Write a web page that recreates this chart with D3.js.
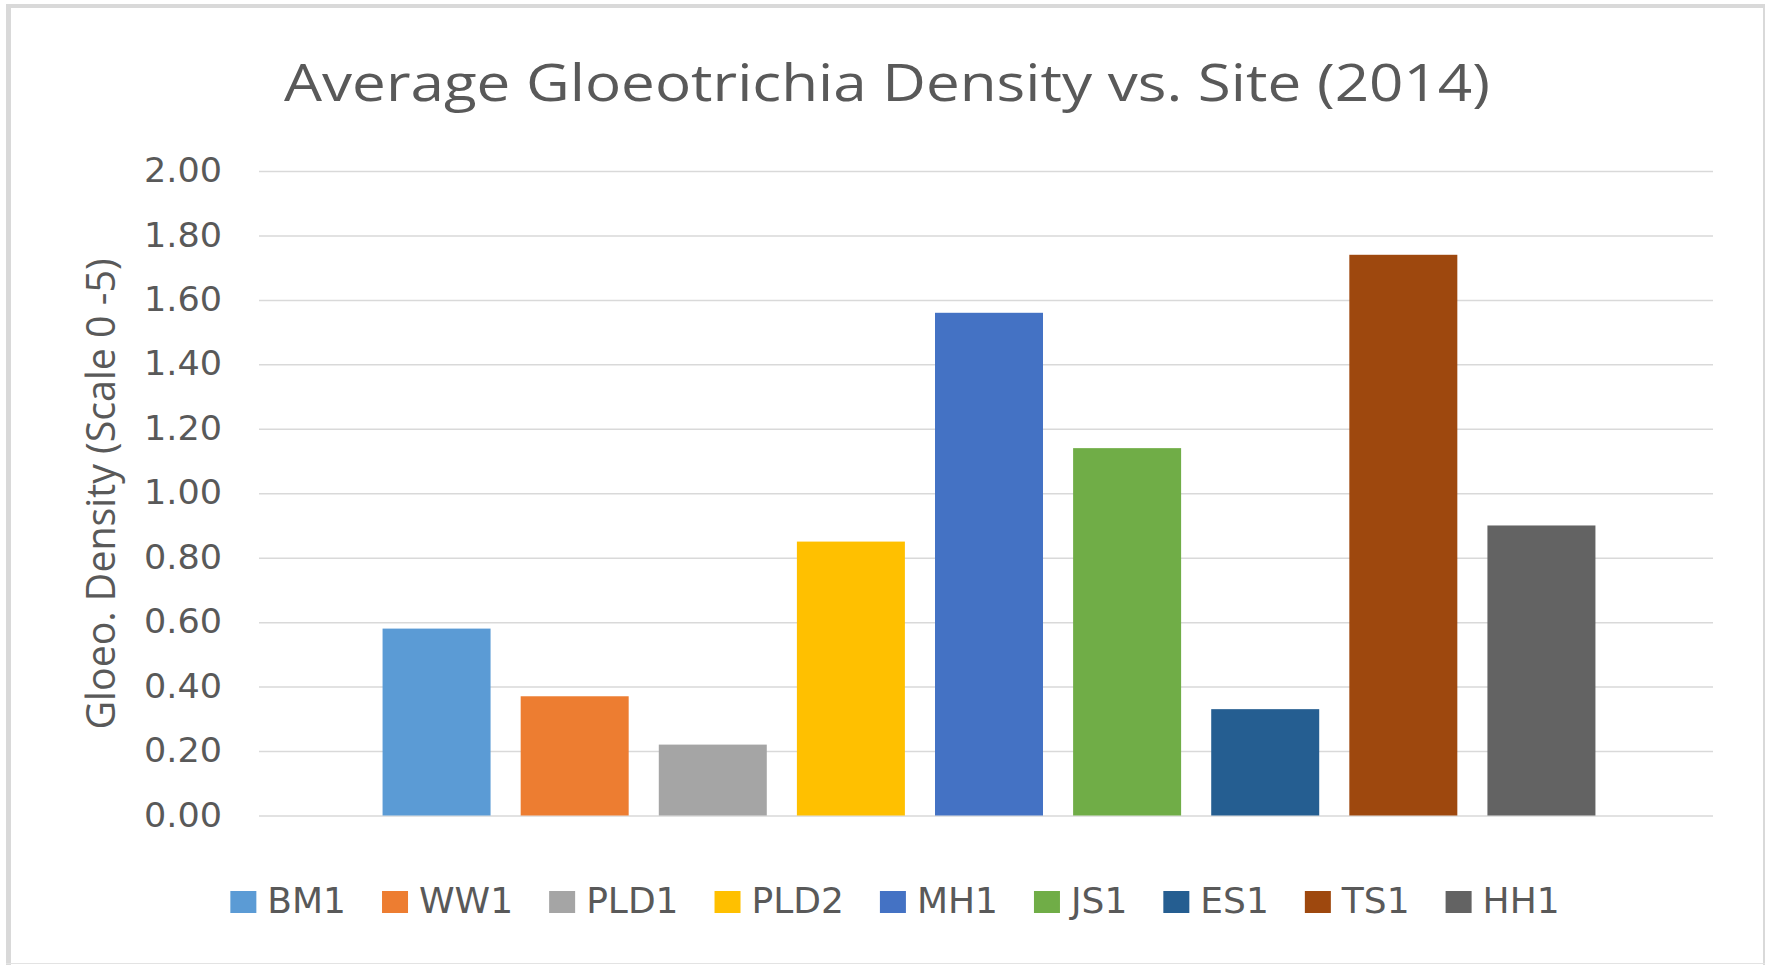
<!DOCTYPE html>
<html>
<head>
<meta charset="utf-8">
<script src="https://cdn.jsdelivr.net/npm/d3@7"></script>
<style>
  html, body { margin: 0; padding: 0; background: #fff; }
  svg { display: block; }
</style>
</head>
<body>
<div id="chart"></div>
<script>
  var sites = ["BM1", "WW1", "PLD1", "PLD2", "MH1", "JS1", "ES1", "TS1", "HH1"];
  var density = [0.58, 0.37, 0.22, 0.85, 1.56, 1.14, 0.33, 1.74, 0.90];
  var colors = ["#5B9BD5", "#ED7D31", "#A5A5A5", "#FFC000", "#4472C4", "#70AD47", "#255E91", "#9E480E", "#636363"];
  var yTicks = [0, 0.2, 0.4, 0.6, 0.8, 1.0, 1.2, 1.4, 1.6, 1.8, 2.0];

  var width = 1766, height = 965;
  var margin = {top: 171, right: 53, bottom: 149.5, left: 259};
  var textColor = "#595959";

  var svg = d3.select("#chart")
    .append("svg")
    .attr("width", width)
    .attr("height", height);

  // outer frame
  svg.append("rect")
    .attr("x", 8).attr("y", 6)
    .attr("width", 1756).attr("height", 957)
    .attr("fill", "#fff");
  svg.append("line").attr("x1", 6).attr("x2", 1765).attr("y1", 6).attr("y2", 6)
    .attr("stroke", "#d9d9d9").attr("stroke-width", 4);
  svg.append("line").attr("x1", 8.5).attr("x2", 8.5).attr("y1", 4).attr("y2", 965)
    .attr("stroke", "#d9d9d9").attr("stroke-width", 5);
  svg.append("line").attr("x1", 1764).attr("x2", 1764).attr("y1", 4).attr("y2", 965)
    .attr("stroke", "#d9d9d9").attr("stroke-width", 2);
  svg.append("line").attr("x1", 6).attr("x2", 1765).attr("y1", 963.5).attr("y2", 963.5)
    .attr("stroke", "#e3e3e3").attr("stroke-width", 1);

  var g = svg.append("g")
    .attr("transform", "translate(" + margin.left + "," + margin.top + ")");

  var innerW = width - margin.left - margin.right,
    innerH = height - margin.top - margin.bottom;

  // bars sit a touch right of the plot centre in the original
  var x = d3.scaleBand()
    .domain(sites)
    .range([3, innerW + 3])
    .paddingInner(0.218)
    .paddingOuter(0.873);

  var y = d3.scaleLinear()
    .domain([0, 2])
    .range([innerH, 0]);

  var yAxis = d3.axisLeft(y)
    .tickValues(yTicks)
    .tickSize(-innerW)
    .tickPadding(37)
    .tickFormat(d3.format(".2f"));

  var yg = g.append("g")
    .attr("class", "y axis")
    .call(yAxis);
  yg.select(".domain").remove();
  yg.selectAll(".tick line")
    .attr("stroke", "#d9d9d9")
    .attr("stroke-width", 1.5);
  yg.selectAll(".tick text")
    .attr("fill", textColor)
    .attr("textLength", 78)
    .attr("lengthAdjust", "spacingAndGlyphs")
    .style("font-family", "'DejaVu Sans', sans-serif")
    .style("font-size", "33px");

  g.selectAll("rect.bar")
    .data(density)
    .enter()
    .append("rect")
    .attr("class", "bar")
    .attr("x", function (d, i) { return x(sites[i]); })
    .attr("y", function (d) { return y(d); })
    .attr("width", x.bandwidth())
    .attr("height", function (d) { return y(0) - y(d); })
    .attr("fill", function (d, i) { return colors[i]; });

  // title
  svg.append("text")
    .attr("x", 887)
    .attr("y", 101)
    .attr("text-anchor", "middle")
    .attr("fill", textColor)
    .style("font-family", "'Open Sans', sans-serif")
    .style("font-size", "52px")
    .attr("textLength", 1206)
    .attr("lengthAdjust", "spacingAndGlyphs")
    .text("Average Gloeotrichia Density vs. Site (2014)");

  // y axis title
  svg.append("text")
    .attr("transform", "translate(115,494) rotate(-90)")
    .attr("text-anchor", "middle")
    .attr("fill", textColor)
    .style("font-family", "'Open Sans', sans-serif")
    .style("font-size", "40px")
    .attr("textLength", 471)
    .attr("lengthAdjust", "spacingAndGlyphs")
    .text("Gloeo. Density (Scale 0 -5)");

  // legend
  var legend = svg.append("g").attr("class", "legend");
  var items = legend.selectAll("g")
    .data(sites)
    .enter().append("g");
  items.append("rect")
    .attr("width", 26)
    .attr("height", 22)
    .attr("y", 891)
    .attr("fill", function (d, i) { return colors[i]; });
  items.append("text")
    .attr("y", 913)
    .attr("fill", textColor)
    .style("font-family", "'DejaVu Sans', sans-serif")
    .style("font-size", "36px")
    .text(function (d) { return d; });

  var pos = 0, lefts = [];
  items.each(function (d, i) {
    var w = d3.select(this).select("text").node().getComputedTextLength();
    lefts.push(pos);
    pos += 26 + 11 + w + 36;
  });
  var total = pos - 36;
  var startX = 895 - total / 2;
  items.attr("transform", function (d, i) {
    return "translate(" + (startX + lefts[i]) + ",0)";
  });
  items.select("text").attr("x", 37);
</script>
</body>
</html>
